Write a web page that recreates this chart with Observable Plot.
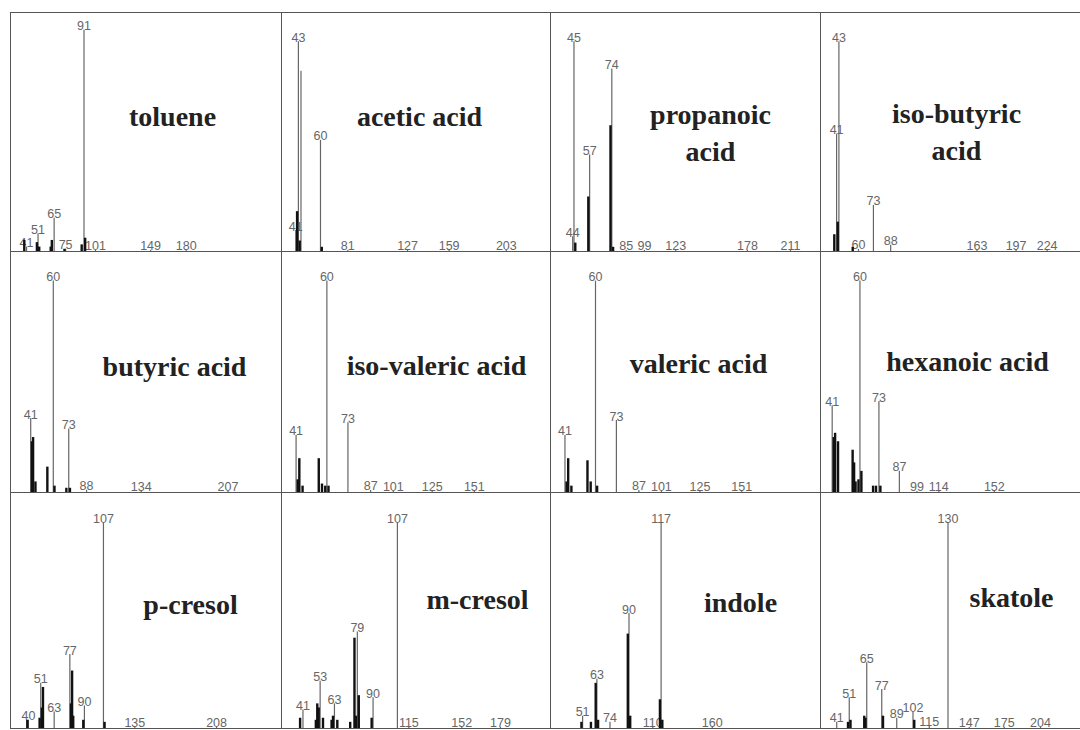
<!DOCTYPE html>
<html>
<head>
<meta charset="utf-8">
<script src="https://cdn.jsdelivr.net/npm/d3@7"></script>
<script src="https://cdn.jsdelivr.net/npm/@observablehq/plot@0.6"></script>
<style>
  html, body { margin: 0; padding: 0; background: #fff; width: 1080px; height: 730px; overflow: hidden; }
  #wrap { position: relative; width: 1080px; height: 730px; }
  .panel { position: absolute; }
  .panel svg { display: block; overflow: visible; }
  .panel g[aria-label="title"] text { letter-spacing: 2px; }
</style>
</head>
<body>
<div id="wrap"></div>
<script>
// ---- data (m/z, relative intensity %) ----
const titles = ["toluene", "acetic acid", "propanoic\nacid", "iso-butyric\nacid",
  "butyric acid", "iso-valeric acid", "valeric acid", "hexanoic acid",
  "p-cresol", "m-cresol", "indole", "skatole"];

const toluene = [[39,5],[41,2],[50,4],[51,8],[52,2],[62,2],[63,5],[65,15],[74,1],[75,1],[89,3],[91,100],[92,6],[101,0.5],[149,0.5],[180,0.5]];
const toluenePeakLabels = [41, 51, 65, 75, 91, 101, 149, 180];

const aceticAcid = [[41,10],[42,19],[43,100],[44,5],[45,86],[60,53],[61,2],[81,0.5],[127,0.5],[159,0.5],[203,0.5]];
const aceticAcidPeakLabels = [41, 43, 60, 81, 127, 159, 203];

const propanoicAcid = [[44,7],[45,100],[46,4],[56,26],[57,46],[73,60],[74,87],[75,2],[85,0.5],[99,0.5],[123,0.5],[178,0.5],[211,0.5]];
const propanoicAcidPeakLabels = [44, 45, 57, 74, 85, 99, 123, 178, 211];

const isoButyricAcid = [[39,8],[41,56],[42,14],[43,100],[55,2],[60,1],[73,22],[88,3],[163,0.5],[197,0.5],[224,0.5]];
const isoButyricAcidPeakLabels = [41, 43, 60, 73, 88, 163, 197, 224];

const butyricAcid = [[41,35],[42,24],[43,26],[45,5],[55,12],[60,100],[61,3],[71,2],[73,30],[74,2],[88,1],[134,0.5],[207,0.5]];
const butyricAcidPeakLabels = [41, 60, 73, 88, 134, 207];

const isoValericAcid = [[41,27],[42,6],[43,16],[45,3],[55,16],[57,4],[59,3],[60,100],[61,3],[73,33],[87,1],[101,0.5],[125,0.5],[151,0.5]];
const isoValericAcidPeakLabels = [41, 60, 73, 87, 101, 125, 151];

const valericAcid = [[41,27],[42,5],[43,16],[45,3],[55,15],[57,5],[60,100],[61,3],[73,34],[87,1],[101,0.5],[125,0.5],[151,0.5]];
const valericAcidPeakLabels = [41, 60, 73, 87, 101, 125, 151];

const hexanoicAcid = [[41,41],[42,26],[43,28],[45,24],[55,20],[56,14],[57,5],[59,6],[60,100],[61,10],[69,3],[71,3],[73,43],[74,3],[87,10],[99,0.5],[114,0.5],[152,0.5]];
const hexanoicAcidPeakLabels = [41, 60, 73, 87, 99, 114, 152];

const pCresol = [[39,4],[40,4],[50,5],[51,22],[52,10],[53,20],[63,8],[77,36],[78,12],[79,28],[80,6],[89,4],[90,11],[107,100],[108,3],[135,0.5],[208,0.5]];
const pCresolPeakLabels = [40, 51, 63, 77, 90, 107, 135, 208];

const mCresol = [[39,5],[41,9],[50,4],[51,12],[52,10],[53,23],[55,5],[61,4],[62,6],[63,12],[65,4],[74,3],[77,44],[78,6],[79,47],[80,16],[89,5],[90,15],[107,100],[115,0.5],[152,0.5],[179,0.5]];
const mCresolPeakLabels = [41, 53, 63, 79, 90, 107, 115, 152, 179];

const indole = [[50,3],[51,6],[58,3],[62,22],[63,24],[64,4],[74,3],[89,46],[90,56],[91,6],[110,0.5],[116,14],[117,100],[118,4],[160,0.5]];
const indolePeakLabels = [51, 63, 74, 90, 110, 117, 160];

const skatole = [[41,3],[50,3],[51,15],[52,4],[63,6],[64,5],[65,32],[77,19],[78,6],[89,5],[102,8],[103,4],[115,1],[130,100],[147,0.5],[175,0.5],[204,0.5]];
const skatolePeakLabels = [41, 51, 65, 77, 89, 102, 115, 130, 147, 175, 204];

const spectra = [toluene, aceticAcid, propanoicAcid, isoButyricAcid, butyricAcid, isoValericAcid,
  valericAcid, hexanoicAcid, pCresol, mCresol, indole, skatole];
const peakLabels = [toluenePeakLabels, aceticAcidPeakLabels, propanoicAcidPeakLabels, isoButyricAcidPeakLabels,
  butyricAcidPeakLabels, isoValericAcidPeakLabels, valericAcidPeakLabels, hexanoicAcidPeakLabels,
  pCresolPeakLabels, mCresolPeakLabels, indolePeakLabels, skatolePeakLabels];
const mzDomains = [[27,263],[30,237],[27,234],[27,253],[24,252],[32,198],[32,200],[33,211],[24,266],[26,214],[24,251],[28,236]];
const intensityMax = [108,114,114,114, 114,114,114,114, 115,115,115,115];

// ---- layout (not data) ----
const colX = [10, 281, 550, 820];
const colW = [271, 269, 270, 260];
const rowY = [12, 251, 492];
const rowH = [239, 241, 236];
const titleCenter = [[162,101],[138,101],[160,118],[136,117],
  [164,112],[155,111],[148,109],[147,107],
  [180,109],[196,104],[190,107],[191,102]];

const wrap = document.getElementById("wrap");
spectra.forEach((peaks, i) => {
  const col = i % 4, row = Math.floor(i / 4);
  const labels = new Set(peakLabels[i]);
  const data = peaks.map(([mz, v]) => ({mz, v, labeled: labels.has(mz)}));
  const thin = data.filter(d => d.labeled || d.v >= 70);
  const thick = data.filter(d => !(d.labeled || d.v >= 70));
  const tagged = data.filter(d => d.labeled);
  const [tx, ty] = titleCenter[i];
  const chart = Plot.plot({
    width: colW[col],
    height: rowH[row],
    margin: 0,
    x: {domain: mzDomains[i], axis: null},
    y: {domain: [0, intensityMax[i]], axis: null},
    marks: [
      Plot.frame({stroke: "#555", strokeWidth: 1}),
      Plot.text(tagged, {x: "mz", y: "v", text: d => String(d.mz), lineAnchor: "bottom", dy: 0,
        fill: "#666", fontSize: 12.5, fontFamily: "Liberation Sans, Arial, sans-serif"}),
      Plot.ruleX(thin, {x: "mz", y1: 0, y2: "v", stroke: "#666", strokeWidth: 1.2}),
      Plot.ruleX(thick, {x: "mz", y1: 0, y2: "v", stroke: "#111", strokeWidth: 2.4}),
      Plot.text([titles[i]], {text: d => d, frameAnchor: "top-left", dx: tx, dy: ty,
        textAnchor: "middle", lineAnchor: "middle", lineHeight: 1.35,
        fontSize: 28, fontWeight: "bold", fill: "#222", ariaLabel: "title",
        fontFamily: "Liberation Serif, Times New Roman, serif"})
    ]
  });
  const div = document.createElement("div");
  div.className = "panel";
  div.style.left = colX[col] + "px";
  div.style.top = rowY[row] + "px";
  div.appendChild(chart);
  wrap.appendChild(div);
});
</script>
</body>
</html>
